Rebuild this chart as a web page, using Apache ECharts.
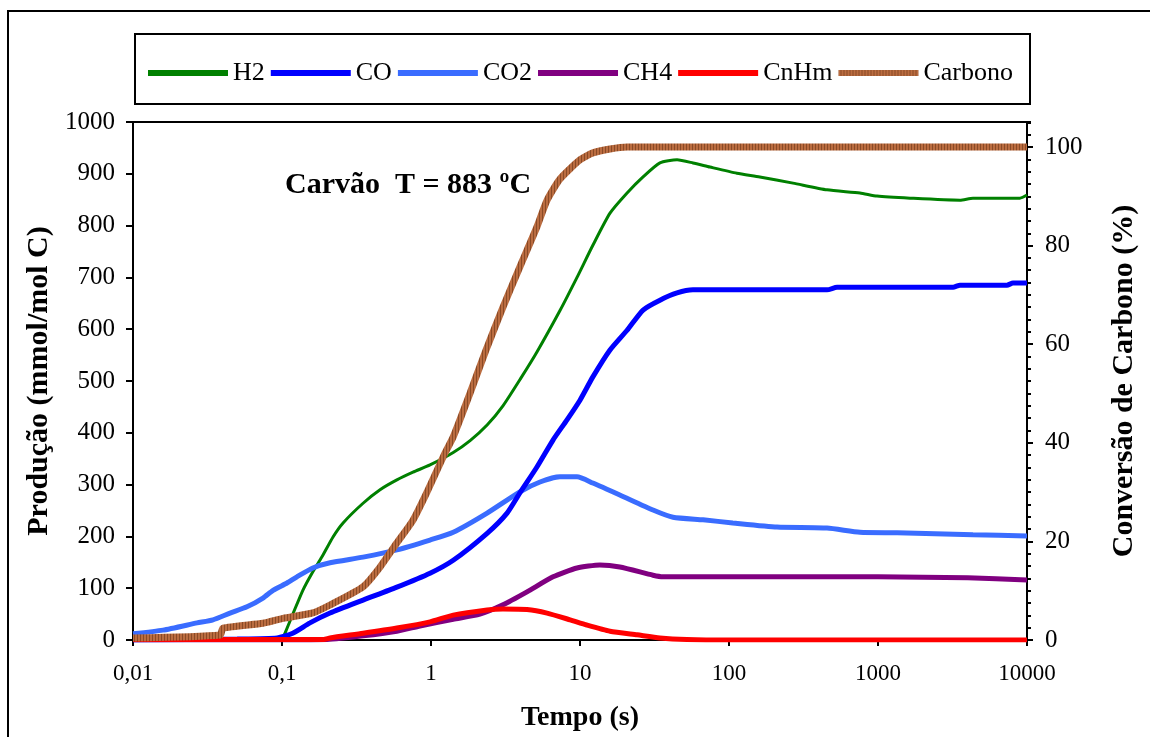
<!DOCTYPE html>
<html><head><meta charset="utf-8">
<script src="https://cdn.jsdelivr.net/npm/echarts@6/dist/echarts.min.js"></script>
<style>html,body{margin:0;padding:0;background:#fff}#c{width:1150px;height:737px}</style>
</head><body><div id="c"></div>
<script>
// ---- data ----
const xTickLabels = ['0,01','0,1','1','10','100','1000','10000'];
const seriesNames = ['H2','CO','CO2','CH4','CnHm','Carbono'];

const h2Time = [0.01,0.05,0.1,0.102,0.119,0.138,0.159,0.185,0.22,0.257,0.35,0.455,0.59,0.757,0.985,1.41,1.83,2.38,3.04,4.0,5.14,7.34,9.55,12.2,15.9,20.7,26.5,34.4,44.8,57.3,74.5,113,161,269,455,757,985,1640,3550,4340,8970,10000];
const h2Values = [0,0,0,5,52,96,129,160,199,226,264,290,309,324,338,362,385,415,452,505,556,636,700,762,824,863,894,921,927,921,913,901,894,882,869,863,857,853,849,853,853,859];

const coTime = [0.01,0.05,0.0925,0.118,0.154,0.21,0.35,0.59,0.985,1.41,2.38,3.24,3.95,5.14,6.59,8.18,10,12.2,15.9,20.7,26.5,34.4,44.8,57.3,100,455,531,3190,3550,7340,8050,10000];
const coValues = [0,2,4,13,33,52,77,102,129,154,206,245,284,334,386,425,463,508,560,598,637,656,670,676,676,676,681,681,685,685,689,689];

const co2Time = [0.01,0.0159,0.0269,0.0344,0.0448,0.0582,0.0745,0.0871,0.108,0.126,0.161,0.21,0.35,0.59,0.985,1.41,2.38,3.95,5.39,7.34,9.55,12.2,18.5,30.9,42.1,67,106,210,455,757,1343,4340,10000];
const co2Values = [12,19,33,39,52,64,81,96,110,122,139,149,160,174,193,208,245,286,305,315,315,303,280,251,237,232,226,218,216,208,207,203,201];

const ch4Time = [0.01,0.1,0.2,0.35,0.59,0.843,1.41,2.13,3.04,4.41,6.59,9.55,13.6,18.5,30.9,36,119,1000,4000,10000];
const ch4Values = [0,0,1,8,17,27,40,50,68,93,122,139,145,141,125,122,122,122,120,116];

const cnhmTime = [0.01,0.1,0.19,0.21,0.35,0.59,0.985,1.41,2.38,3.04,4.41,6.01,8.57,11.1,15.9,24.2,34.4,52.2,100,10000];
const cnhmValues = [1,1,1,4,13,23,35,48,58,60,59,52,39,29,17,10,4,1,0,0];

const carbTime = [0.01,0.0384,0.0402,0.0745,0.1017,0.161,0.21,0.35,0.455,0.59,0.757,0.94,1.24,1.41,1.83,2.38,3.04,3.95,5.14,6.01,7.34,10,12.2,15.9,20.7,10000];
const carbValues = [0.4,1,2.4,3.4,4.4,5.5,7.1,10.8,14.8,19.7,24.3,30,37.9,41.2,50.1,59.4,67.5,75.7,83.8,89.2,93.5,97.4,98.8,99.6,100,100];

const pair = (t, v) => t.map((x, i) => [x, v[i]]);

// striped brown texture for "Carbono"
const pc = document.createElement('canvas');
pc.width = 3; pc.height = 4;
const g = pc.getContext('2d');
g.fillStyle = '#ba6c40'; g.fillRect(0,0,3,4);
g.fillStyle = '#8a4a26'; g.fillRect(2,0,1,4);
const carbPattern = {image: pc, repeat: 'repeat'};

const serif = '"Liberation Serif","Times New Roman",serif';
const chart = echarts.init(document.getElementById('c'));
const lineS = (name, data, color, width, z, yIdx) => ({
  name, type: 'line', data, yAxisIndex: yIdx || 0, symbol: 'none', smooth: 0.2, z,
  lineStyle: {color, width}, itemStyle: {color}, animation: false
});

chart.setOption({
  backgroundColor: '#fff',
  animation: false,
  grid: {left: 133, right: 123, top: 122, bottom: 97, show: true, borderColor: '#000', borderWidth: 2, containLabel: false},
  legend: {
    data: seriesNames, left: 143, top: 55, itemWidth: 80, itemHeight: 6, itemGap: 6, icon: 'rect',
    textStyle: {fontFamily: serif, fontSize: 26, color: '#000'}
  },
  graphic: [
    {type: 'rect', shape: {x: 8, y: 11, width: 1300, height: 900}, style: {fill: 'none', stroke: '#000', lineWidth: 2}, z: 100},
    {type: 'rect', shape: {x: 135, y: 34, width: 895, height: 70}, style: {fill: 'none', stroke: '#000', lineWidth: 2}, z: 100},
    {type: 'text', left: 285, top: 170, style: {text: 'Carvão  T = 883 ºC', font: 'bold 30px ' + serif, fill: '#000'}, z: 100}
  ],
  xAxis: {
    type: 'log', logBase: 10, min: 0.01, max: 10000,
    name: 'Tempo (s)', nameLocation: 'middle', nameGap: 64,
    nameTextStyle: {fontFamily: serif, fontSize: 28, fontWeight: 'bold', color: '#000'},
    axisLine: {lineStyle: {color: '#000', width: 2}},
    axisTick: {show: true, inside: false, length: 6, lineStyle: {color: '#000', width: 2}},
    minorTick: {show: false}, splitLine: {show: false},
    axisLabel: {fontFamily: serif, fontSize: 23, color: '#000', margin: 22,
      formatter: v => { const i = Math.round(Math.log10(v)) + 2; return xTickLabels[i] !== undefined ? xTickLabels[i] : ''; }}
  },
  yAxis: [
    {
      type: 'value', min: 0, max: 1000, interval: 100, position: 'left',
      name: 'Produção (mmol/mol C)', nameLocation: 'middle', nameGap: 78, nameRotate: 90,
      nameTextStyle: {fontFamily: serif, fontSize: 30, fontWeight: 'bold', color: '#000'},
      axisLine: {show: true, lineStyle: {color: '#000', width: 2}},
      axisTick: {show: true, length: 7, lineStyle: {color: '#000', width: 2}},
      splitLine: {show: false},
      axisLabel: {fontFamily: serif, fontSize: 25, color: '#000', margin: 18, formatter: v => String(v)}
    },
    {
      type: 'value', min: 0, max: 105.07, interval: 20, position: 'right',
      name: 'Conversão de Carbono (%)', nameLocation: 'middle', nameGap: 82, nameRotate: 90,
      nameTextStyle: {fontFamily: serif, fontSize: 30, fontWeight: 'bold', color: '#000'},
      axisLine: {show: true, lineStyle: {color: '#000', width: 2}},
      axisTick: {show: true, length: 6, lineStyle: {color: '#000', width: 2}},
      splitLine: {show: false},
      axisLabel: {fontFamily: serif, fontSize: 25, color: '#000', margin: 18, showMaxLabel: false,
        formatter: v => (v % 20 === 0 && v <= 100) ? String(v) : ''}
    },
    {
      type: 'value', min: 0, max: 105.07, interval: 2.5, position: 'right', offset: 0,
      axisLine: {show: false}, splitLine: {show: false},
      axisLabel: {show: false, interval: 0},
      axisTick: {show: true, interval: 0, length: 4, lineStyle: {color: '#000', width: 2}}
    }
  ],
  series: [
    lineS('H2', pair(h2Time, h2Values), '#008000', 3, 2),
    lineS('CO', pair(coTime, coValues), '#0000ff', 5, 4),
    lineS('CO2', pair(co2Time, co2Values), '#3a6cff', 5, 3),
    lineS('CH4', pair(ch4Time, ch4Values), '#800080', 5, 5),
    lineS('CnHm', pair(cnhmTime, cnhmValues), '#ff0000', 5, 6),
    lineS('Carbono', pair(carbTime, carbValues), carbPattern, 7, 7, 1)
  ]
});
</script></body></html>
